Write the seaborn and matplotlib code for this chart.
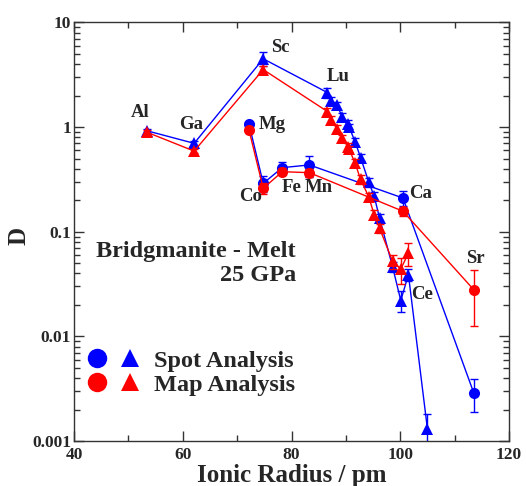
import matplotlib
matplotlib.use("Agg")
import matplotlib.pyplot as plt
import seaborn as sns
import numpy as np
import pandas as pd
from matplotlib.lines import Line2D
from matplotlib.legend_handler import HandlerTuple
from matplotlib.ticker import LogLocator, MultipleLocator, FixedLocator, FixedFormatter

# ---------------- data ----------------
# trivalent cations (triangles): Al, Ga, Sc, Lu ... La
tri_x = [53.5, 62.1, 74.8, 86.6, 87.2, 88.4, 89.3, 90.4, 90.6, 91.7, 92.7,
         94.2, 95.2, 96.2, 98.6, 100.1, 101.5, 105.0]
tri_spot = [0.92, 0.70, 4.5, 2.14, 1.77, 1.61, 1.26, 1.07, 1.0, 0.725, 0.512,
            0.30, 0.219, 0.135, 0.046, 0.022, 0.039, 0.0013]
tri_spot_err = [0.05, 0.04, 0.7, 0.25, 0.15, 0.12, 0.10, 0.10, 0.08, 0.06, 0.04,
                0.03, 0.02, 0.012, 0.005, 0.005, 0.005, 0.0005]
tri_map_x = tri_x[:-1]
tri_map = [0.89, 0.59, 3.55, 1.41, 1.17, 0.97, 0.78, 0.65, 0.615, 0.452, 0.317,
           0.216, 0.146, 0.108, 0.052, 0.044, 0.0625]
tri_map_err = [0.04, 0.03, 0.3, 0.12, 0.10, 0.08, 0.06, 0.05, 0.05, 0.04, 0.03,
               0.02, 0.015, 0.01, 0.008, 0.012, 0.015]

# divalent cations (circles): Mg, Co, Fe, Mn, Ca, Sr
circ_x = [72.2, 74.8, 78.3, 83.3, 100.5, 113.5]
circ_spot = [1.06, 0.29, 0.41, 0.435, 0.21, 0.0029]
circ_spot_err = [0.03, 0.05, 0.05, 0.10, 0.035, 0.001]
circ_map = [0.93, 0.26, 0.375, 0.367, 0.157, 0.028]
circ_map_err = [0.02, 0.03, 0.03, 0.03, 0.015, 0.0155]

# element labels
lab_text = ["Al", "Ga", "Sc", "Mg", "Co", "Fe", "Mn", "Lu", "Ca", "Ce", "Sr"]
lab_x = [52.1, 61.5, 77.9, 76.4, 72.4, 80.1, 85.1, 88.5, 103.8, 104.0, 113.9]
lab_y = [1.39, 1.07, 5.83, 1.05, 0.215, 0.262, 0.262, 3.08, 0.234, 0.025, 0.056]

xticks = [40, 60, 80, 100, 120]
yticks = [0.001, 0.01, 0.1, 1, 10]
ytick_labels = ["0.001", "0.01", "0.1", "1", "10"]

BLUE = "#0000ff"
RED = "#ff0000"

# ---------------- style ----------------
sns.set_theme(style="ticks")
plt.rcParams["font.family"] = ["Liberation Serif", "DejaVu Serif"]
plt.rcParams["font.weight"] = "bold"

fig = plt.figure(figsize=(5.26, 4.86), dpi=100)
W, H = 526, 486
left, right, top, bottom = 74, 509, 22.5, 441
ax = fig.add_axes([left / W, 1 - bottom / H, (right - left) / W, (bottom - top) / H])
ax.set_yscale("log")

def series(x, y, err, color, marker):
    sns.lineplot(x=x, y=y, sort=False, estimator=None, color=color, ax=ax,
                 linewidth=1.0, marker=marker, markersize=8,
                 markeredgewidth=0, markerfacecolor=color)
    ax.errorbar(x, y, yerr=err, fmt="none", ecolor=color, elinewidth=1.0,
                capsize=3.2, capthick=1.0)

series(tri_x, tri_spot, tri_spot_err, BLUE, "^")
series(circ_x, circ_spot, circ_spot_err, BLUE, "o")
series(tri_map_x, tri_map, tri_map_err, RED, "^")
series(circ_x, circ_map, circ_map_err, RED, "o")

ax.set_xlim(40, 120)
ax.set_ylim(0.001, 10)

ax.xaxis.set_major_locator(FixedLocator(xticks))
ax.xaxis.set_minor_locator(MultipleLocator(10))
ax.yaxis.set_major_locator(FixedLocator(yticks))
ax.yaxis.set_major_formatter(FixedFormatter(ytick_labels))
ax.yaxis.set_minor_locator(LogLocator(base=10, subs=np.arange(2, 10)))
ax.tick_params(which="both", direction="in", top=True, right=True,
               color="#333333", width=1.0)
ax.tick_params(which="major", length=7, labelsize=12.5, pad=2)
ax.tick_params(axis="x", which="major", pad=4)
ax.tick_params(which="minor", length=4)
for lbl in ax.get_xticklabels() + ax.get_yticklabels():
    lbl.set_fontweight("bold")
for s in ax.spines.values():
    s.set_color("#333333")
    s.set_linewidth(1.0)

ax.set_xlabel("Ionic Radius / pm", fontsize=18, fontweight="bold", labelpad=1)
ax.set_ylabel("D", fontsize=18, fontweight="bold")
ax.yaxis.set_label_coords(-0.10, 0.49)

for t, x, y in zip(lab_text, lab_x, lab_y):
    ax.text(x, y, t, fontsize=13.5, fontweight="bold", ha="center", va="center")

ax.text(0.51, 0.424, "Bridgmanite - Melt\n25 GPa", transform=ax.transAxes,
        ha="right", va="center", multialignment="right", fontsize=17.5,
        fontweight="bold", linespacing=1.2)

h_spot = (Line2D([], [], ls="none", marker="o", color=BLUE, markersize=14, markeredgewidth=0),
          Line2D([], [], ls="none", marker="^", color=BLUE, markersize=13, markeredgewidth=0))
h_map = (Line2D([], [], ls="none", marker="o", color=RED, markersize=14, markeredgewidth=0),
         Line2D([], [], ls="none", marker="^", color=RED, markersize=13, markeredgewidth=0))
leg = ax.legend([h_spot, h_map], ["Spot Analysis", "Map Analysis"],
                handler_map={tuple: HandlerTuple(ndivide=None, pad=0.4)},
                loc="lower left", bbox_to_anchor=(0.005, 0.085), frameon=False,
                prop={"size": 17.5, "weight": "bold"}, handlelength=2.3,
                handletextpad=0.5, labelspacing=0.08, borderaxespad=0)

fig.savefig("out.png", dpi=100)
